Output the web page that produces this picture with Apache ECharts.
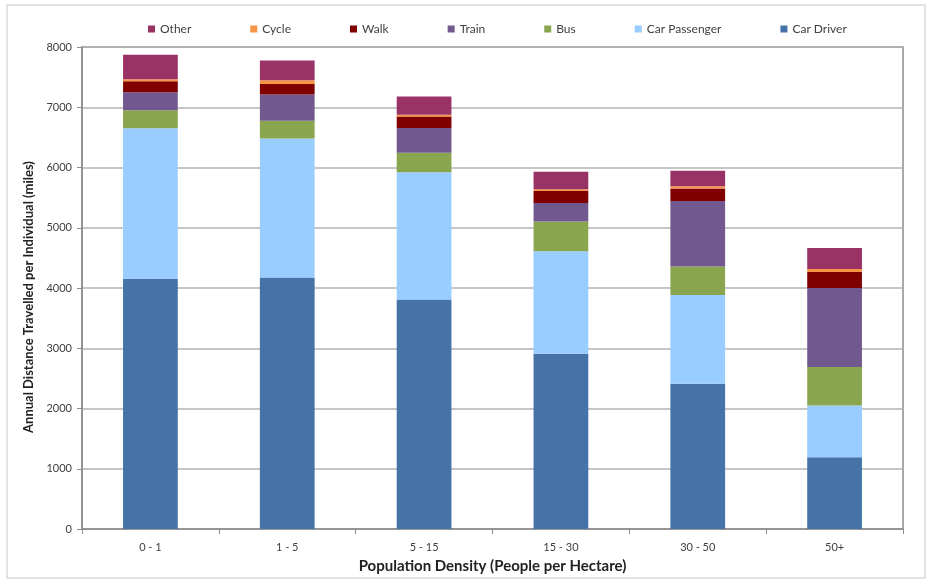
<!DOCTYPE html>
<html>
<head>
<meta charset="utf-8">
<script src="https://cdn.jsdelivr.net/npm/echarts@6/dist/echarts.min.js"></script>
<style>
  html, body { margin: 0; padding: 0; background: #ffffff; }
  #chart { width: 933px; height: 581px; }
</style>
</head>
<body>
<div id="chart"></div>
<script>
// Population density bands (people per hectare)
const categories = ['0 - 1', '1 - 5', '5 - 15', '15 - 30', '30 - 50', '50+'];

// Annual distance travelled per individual (miles), by mode
const carDriver    = [4155, 4175, 3810, 2910, 2410, 1190];
const carPassenger = [2495, 2305, 2110, 1700, 1475, 860];
const bus          = [300, 295, 325, 495, 470, 640];
const train        = [300, 435, 410, 305, 1090, 1310];
const walk         = [180, 175, 190, 200, 205, 265];
const cycle        = [35, 65, 30, 30, 40, 50];
const other        = [405, 325, 305, 290, 255, 350];

const yTicks = { min: 0, max: 8000, interval: 1000 };

const modes = [
  { name: 'Car Driver',    data: carDriver,    color: '#4572A7' },
  { name: 'Car Passenger', data: carPassenger, color: '#99CCFF' },
  { name: 'Bus',           data: bus,          color: '#89A54E' },
  { name: 'Train',         data: train,        color: '#71588F' },
  { name: 'Walk',          data: walk,         color: '#800000' },
  { name: 'Cycle',         data: cycle,        color: '#F79646' },
  { name: 'Other',         data: other,        color: '#993366' }
];

const font = 'Lato, "Open Sans", sans-serif';
const chart = echarts.init(document.getElementById('chart'), null, { renderer: 'canvas' });

chart.setOption({
  animation: false,
  backgroundColor: '#ffffff',
  textStyle: { fontFamily: font },
  graphic: [{
    type: 'rect',
    shape: { x: 7, y: 5, width: 918, height: 573 },
    style: { fill: 'none', stroke: '#d9d9d9', lineWidth: 1.5 },
    z: -1
  }],
  legend: {
    data: modes.map(m => m.name).reverse(),
    top: 18,
    left: 143,
    itemWidth: 7,
    itemHeight: 7,
    itemGap: 59,
    icon: 'rect',
    textStyle: { fontSize: 12, color: '#404040', fontFamily: font }
  },
  grid: {
    left: 82, right: 30, top: 47, bottom: 52,
    show: true,
    borderColor: '#8c8c8c',
    borderWidth: 1.5
  },
  xAxis: {
    type: 'category',
    data: categories,
    name: 'Population Density (People per Hectare)',
    nameLocation: 'middle',
    nameGap: 30,
    nameTextStyle: { fontSize: 15, fontWeight: 'bold', color: '#222', fontFamily: font },
    axisLine: { lineStyle: { color: '#8c8c8c', width: 1.5 } },
    axisTick: { show: true, alignWithLabel: false, length: 5, lineStyle: { color: '#8c8c8c' } },
    axisLabel: { fontSize: 11, color: '#404040', margin: 13, fontFamily: font }
  },
  yAxis: {
    type: 'value',
    min: yTicks.min,
    max: yTicks.max,
    interval: yTicks.interval,
    name: 'Annual Distance Travelled per Individual (miles)',
    nameLocation: 'middle',
    nameGap: 46,
    nameTextStyle: { fontSize: 13, fontWeight: 'bold', color: '#222', fontFamily: font, padding: [0, 18, 0, 0] },
    axisLine: { show: true, lineStyle: { color: '#8c8c8c', width: 1.5 } },
    axisTick: { show: true, length: 5, lineStyle: { color: '#8c8c8c' } },
    axisLabel: { fontSize: 11, color: '#404040', margin: 10, fontFamily: font, formatter: v => String(v) },
    splitLine: { lineStyle: { color: '#b3b3b3', width: 1.5 } }
  },
  series: modes.map(m => ({
    name: m.name,
    type: 'bar',
    stack: 'distance',
    data: m.data,
    barWidth: '40%',
    itemStyle: { color: m.color }
  }))
});
</script>
</body>
</html>
